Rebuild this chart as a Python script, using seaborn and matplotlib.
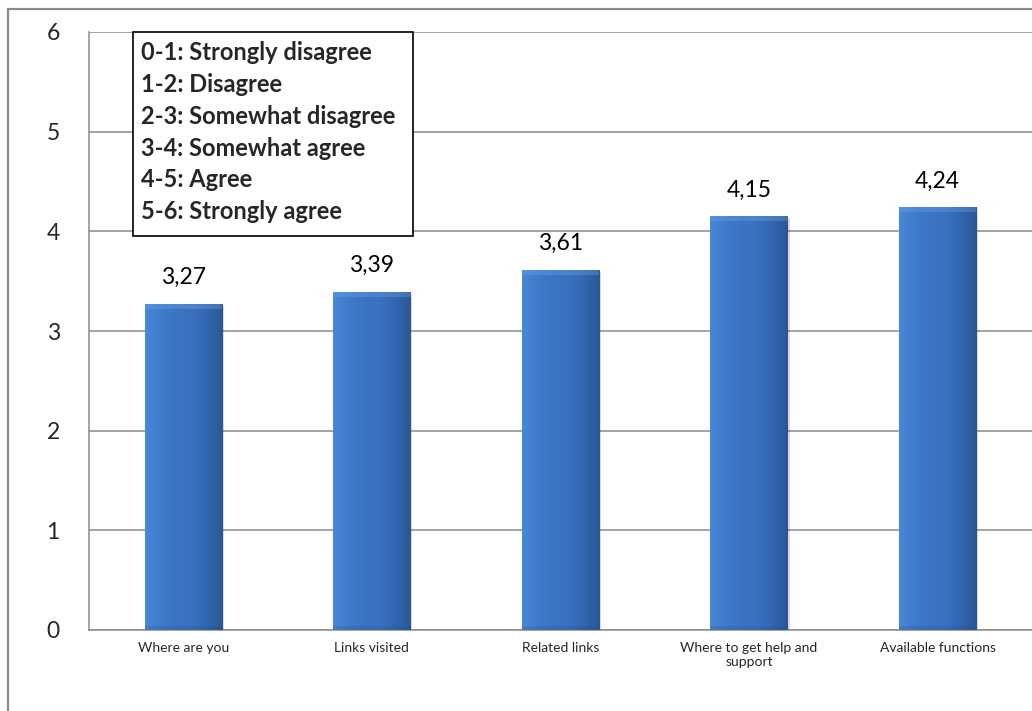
import numpy as np
import matplotlib
matplotlib.use("Agg")
import matplotlib.pyplot as plt
import seaborn as sns
import pandas as pd
from matplotlib.patches import Rectangle
from matplotlib.colors import LinearSegmentedColormap

categories = ["Where are you", "Links visited", "Related links",
              "Where to get help and\nsupport", "Available functions"]
values = [3.27, 3.39, 3.61, 4.15, 4.24]
value_labels = ["3,27", "3,39", "3,61", "4,15", "4,24"]
legend_lines = ["0-1: Strongly disagree", "1-2: Disagree", "2-3: Somewhat disagree",
                "3-4: Somewhat agree", "4-5: Agree", "5-6: Strongly agree"]
yticks = [0, 1, 2, 3, 4, 5, 6]

sns.set_style("white")
plt.rcParams['font.family'] = ['Lato', 'DejaVu Sans']

W, H = 1032, 711
fig = plt.figure(figsize=(W / 100, H / 100), dpi=100)
ax = fig.add_axes([89 / W, 81 / H, (W - 89) / W, (630 - 32) / H])

df = pd.DataFrame({"cat": categories, "val": values})
sns.barplot(data=df, x="cat", y="val", color="#3B72C0", width=0.41, ax=ax,
            edgecolor="none", zorder=3)

# gradient fill for the bars (Excel-like)
cmap = LinearSegmentedColormap.from_list(
    "bar", ["#4A88D6", "#3E7BCB", "#3B74C3", "#3A72C0", "#3366B0", "#2A5797"])
grad = np.linspace(0, 1, 64).reshape(1, -1)
for p in ax.patches:
    x0, y0 = p.get_x(), p.get_y()
    w, h = p.get_width(), p.get_height()
    # shadow
    sh = Rectangle((x0 + 0.01, y0), w, h - 0.02, facecolor="#000000", alpha=0.15,
                   edgecolor="none", zorder=2)
    ax.add_patch(sh)
    im = ax.imshow(grad, extent=[x0, x0 + w, y0, y0 + h], aspect="auto",
                   cmap=cmap, zorder=3.5, interpolation="bicubic")
    im.set_clip_path(p)
    # subtle top bevel highlight
    ax.add_patch(Rectangle((x0, y0 + h - 0.045), w, 0.045, facecolor="#6FA3E6",
                           alpha=0.35, edgecolor="none", zorder=4))
    # slightly darker bottom
    ax.add_patch(Rectangle((x0, y0), w, 0.04, facecolor="#1F4A85",
                           alpha=0.2, edgecolor="none", zorder=4))

ax.set_xlim(-0.5, len(categories) - 0.5)
ax.set_ylim(0, 6)
ax.set_yticks(yticks)
ax.set_yticklabels([str(t) for t in yticks], fontsize=16.5)
ax.yaxis.grid(True, color="#8c8c8c", linewidth=1.1, zorder=0)
ax.set_axisbelow(True)
ax.set_xlabel("")
ax.set_ylabel("")

ax.set_xticks(range(len(categories)))
ax.set_xticklabels(categories, fontsize=10)
ax.set_xticks(np.arange(-0.5, len(categories), 1.0), minor=True)
ax.tick_params(axis="x", which="major", length=0, pad=9)
ax.tick_params(axis="x", which="minor", length=6, color="#8c8c8c", width=1.1,
               direction="out")
ax.tick_params(axis="y", length=7, color="#8c8c8c", width=1.1, direction="out", pad=14)

for s in ["top", "right"]:
    ax.spines[s].set_visible(False)
for s in ["left", "bottom"]:
    ax.spines[s].set_color("#8c8c8c")
    ax.spines[s].set_linewidth(1.1)

for i, (v, lab) in enumerate(zip(values, value_labels)):
    ax.annotate(lab, (i, v), xytext=(0, 19), textcoords="offset points",
                ha="center", va="center", fontsize=16.5, color="#000000")

# legend box (text annotation)
bx0, by0, bx1, by1 = 133, 32, 413, 236
fig.add_artist(Rectangle((bx0 / W, 1 - by1 / H), (bx1 - bx0) / W, (by1 - by0) / H,
                         transform=fig.transFigure, facecolor="white",
                         edgecolor="black", linewidth=1.2, zorder=10))
for k, line in enumerate(legend_lines):
    yc = 53 + k * 31.7
    fig.text(141 / W, 1 - yc / H, line, fontsize=17, fontweight="bold",
             ha="left", va="center", zorder=11)

# outer chart frame
fig.add_artist(Rectangle((8 / W, -20 / H), (W + 20) / W, (H + 20 - 9) / H,
                         transform=fig.transFigure, facecolor="none",
                         edgecolor="#8a8a8a", linewidth=1.6, zorder=12,
                         clip_on=False))

fig.savefig("out.png", dpi=100)
